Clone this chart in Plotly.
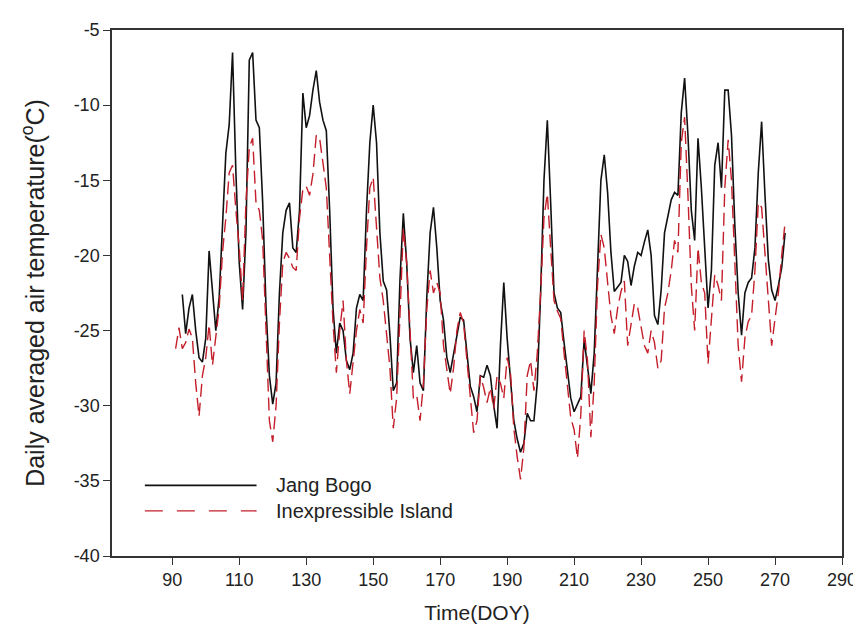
import plotly.graph_objects as go

# ---------------- data ----------------
doy_jang = list(range(93, 274))
jang_bogo = [
    -22.6, -25.2, -23.5, -22.6, -25.0, -26.8, -27.1, -25.5, -19.7, -22.5,   # 93-102
    -25.0, -22.8, -18.0, -13.2, -11.3, -6.5, -14.5, -20.5, -23.6, -18.5,    # 103-112
    -7.0, -6.5, -11.0, -11.5, -16.5, -23.5, -28.0, -29.9, -28.5, -22.5,     # 113-122
    -18.5, -17.0, -16.5, -19.5, -19.8, -17.0, -9.2, -11.5, -10.7, -9.0,     # 123-132
    -7.7, -9.8, -11.0, -11.7, -17.0, -23.5, -26.5, -24.5, -25.0, -27.0,     # 133-142
    -27.6, -26.5, -23.5, -22.6, -23.0, -17.0, -12.5, -10.0, -12.5, -18.5,   # 143-152
    -21.7, -22.3, -25.3, -29.0, -28.5, -21.6, -17.2, -20.5, -25.5, -27.8,   # 153-162
    -26.0, -28.5, -29.0, -22.8, -18.5, -16.8, -19.5, -23.0, -24.3, -26.8,   # 163-172
    -27.8, -26.5, -25.3, -24.1, -24.3, -26.5, -28.7, -29.4, -30.4, -28.0,   # 173-182
    -28.1, -27.3, -28.0, -30.0, -31.5, -26.0, -21.8, -25.5, -28.5, -31.0,   # 183-192
    -32.2, -33.1, -32.5, -30.5, -31.0, -31.0, -28.5, -22.5, -15.0, -11.0,   # 193-202
    -16.5, -22.5, -23.5, -23.8, -25.8, -27.8, -29.5, -30.4, -29.9, -29.4,   # 203-212
    -25.6, -27.4, -29.2, -26.5, -21.0, -15.0, -13.3, -15.8, -19.8, -22.4,   # 213-222
    -22.1, -21.8, -20.0, -20.4, -22.0, -20.7, -19.8, -20.0, -19.1, -18.3,   # 223-232
    -20.0, -24.0, -24.6, -22.3, -18.5, -17.3, -16.3, -15.8, -16.0, -10.5,   # 233-242
    -8.2, -12.0, -17.0, -19.0, -12.2, -15.5, -19.5, -23.5, -21.0, -14.0,    # 243-252
    -12.5, -15.5, -9.0, -9.0, -12.0, -18.0, -22.5, -25.3, -22.5, -21.8,     # 253-262
    -21.5, -19.5, -14.5, -11.1, -16.0, -20.3, -22.3, -23.0, -22.0, -20.8,   # 263-272
    -18.5,                                                                  # 273
]

doy_inex = list(range(91, 274))
inexpressible = [
    -26.2, -24.8,                                                           # 91-92
    -26.2, -25.8, -24.9, -25.5, -28.5, -30.7, -28.0, -26.8, -24.6, -27.3,   # 93-102
    -25.4, -23.5, -19.8, -17.5, -14.5, -14.0, -17.0, -19.5, -23.0, -16.5,   # 103-112
    -12.8, -12.2, -16.5, -17.0, -19.0, -25.5, -31.0, -32.4, -30.0, -24.5,   # 113-122
    -20.5, -19.8, -20.2, -20.8, -21.0, -17.5, -15.6, -15.4, -16.0, -14.6,   # 123-132
    -12.0, -12.2, -13.8, -15.5, -20.0, -24.5, -27.8, -25.0, -23.0, -27.0,   # 133-142
    -29.2, -27.0, -25.0, -23.6, -24.5, -19.5, -15.5, -14.8, -18.0, -21.5,   # 143-152
    -23.0, -25.3, -27.5, -31.5, -29.5, -24.0, -18.2, -20.5, -25.5, -29.5,   # 153-162
    -29.3, -31.0, -28.5, -23.6, -21.0, -22.5, -21.8, -22.5, -26.0, -27.6,   # 163-172
    -29.2, -27.5, -25.0, -23.8, -24.5, -27.0, -29.5, -31.8, -31.0, -28.0,   # 173-182
    -28.8, -29.8, -28.8, -30.2, -28.0, -28.5, -29.5, -26.8, -27.8, -31.5,   # 183-192
    -33.4, -34.9, -32.8, -28.0, -27.0, -29.0, -26.5, -22.5, -17.5, -15.9,   # 193-202
    -19.5, -23.0, -23.7, -24.2, -26.5, -28.6, -30.8, -31.6, -33.5, -30.6,   # 203-212
    -25.0, -27.0, -32.1, -28.5, -22.0, -18.6, -19.5, -21.8, -24.0, -25.2,   # 213-222
    -23.5, -22.4, -21.7, -26.0, -24.5, -23.2, -23.5, -24.8, -26.0, -26.5,   # 223-232
    -25.0, -25.8, -27.5, -27.0, -23.5, -22.5, -21.0, -19.0, -19.8, -12.5,   # 233-242
    -10.8, -16.0, -22.0, -25.0, -19.5, -21.8, -22.5, -27.2, -24.0, -21.3,   # 243-252
    -22.0, -23.0, -15.5, -12.3, -15.0, -21.0, -26.0, -28.4, -25.5, -24.4,   # 253-262
    -24.0, -21.0, -16.5, -16.8, -20.0, -23.5, -26.0, -24.2, -22.5, -20.0,   # 263-272
    -17.8,                                                                  # 273
]

series_names = ["Jang Bogo", "Inexpressible Island"]
x_ticks = [90, 110, 130, 150, 170, 190, 210, 230, 250, 270, 290]
y_ticks = [-40, -35, -30, -25, -20, -15, -10, -5]
y_tick_labels = ["-40", "-35", "-30", "-25", "-20", "-15", "-10", "-5"]

BLACK = "#111111"
RED = "#c41e2a"
FONT = "Liberation Sans, Arial, sans-serif"
TXT = "#222222"

fig = go.Figure()
fig.add_trace(go.Scatter(x=doy_jang, y=jang_bogo, mode="lines", name=series_names[0],
                         line=dict(color=BLACK, width=1.6), showlegend=False))
fig.add_trace(go.Scatter(x=doy_inex, y=inexpressible, mode="lines", name=series_names[1],
                         line=dict(color=RED, width=1.4, dash="13px,6px"), showlegend=False))

# legend drawn like the original (long line samples)
fig.add_shape(type="line", xref="paper", yref="y", x0=0.045, x1=0.198, y0=-35.3, y1=-35.3,
              line=dict(color=BLACK, width=1.6))
fig.add_shape(type="line", xref="paper", yref="y", x0=0.045, x1=0.198, y0=-37.0, y1=-37.0,
              line=dict(color=RED, width=1.4, dash="18px,14px"))
fig.add_annotation(xref="paper", yref="y", x=0.222, y=-35.3, text=series_names[0],
                   showarrow=False, xanchor="left", yanchor="middle",
                   font=dict(family=FONT, size=20, color=TXT))
fig.add_annotation(xref="paper", yref="y", x=0.222, y=-37.0, text=series_names[1],
                   showarrow=False, xanchor="left", yanchor="middle",
                   font=dict(family=FONT, size=20, color=TXT))

axis_common = dict(showline=True, linecolor="#333", linewidth=1.5, mirror=True,
                   ticks="outside", ticklen=7, tickwidth=1.3, tickcolor="#333",
                   showgrid=False, zeroline=False,
                   tickfont=dict(family=FONT, size=18, color=TXT))

fig.update_xaxes(range=[72, 290], tickvals=x_ticks,
                 title=dict(text="Time(DOY)", font=dict(family=FONT, size=21, color=TXT), standoff=16),
                 **axis_common)
fig.update_yaxes(range=[-40, -5], tickvals=y_ticks, ticktext=y_tick_labels,
                 title=dict(text="Daily averaged air temperature(<sup>o</sup>C)",
                            font=dict(family=FONT, size=25, color=TXT), standoff=22),
                 **axis_common)

fig.update_layout(width=861, height=637, plot_bgcolor="white", paper_bgcolor="white",
                  margin=dict(l=104, r=21, t=16, b=89), showlegend=False)

fig.write_html("out.html")
